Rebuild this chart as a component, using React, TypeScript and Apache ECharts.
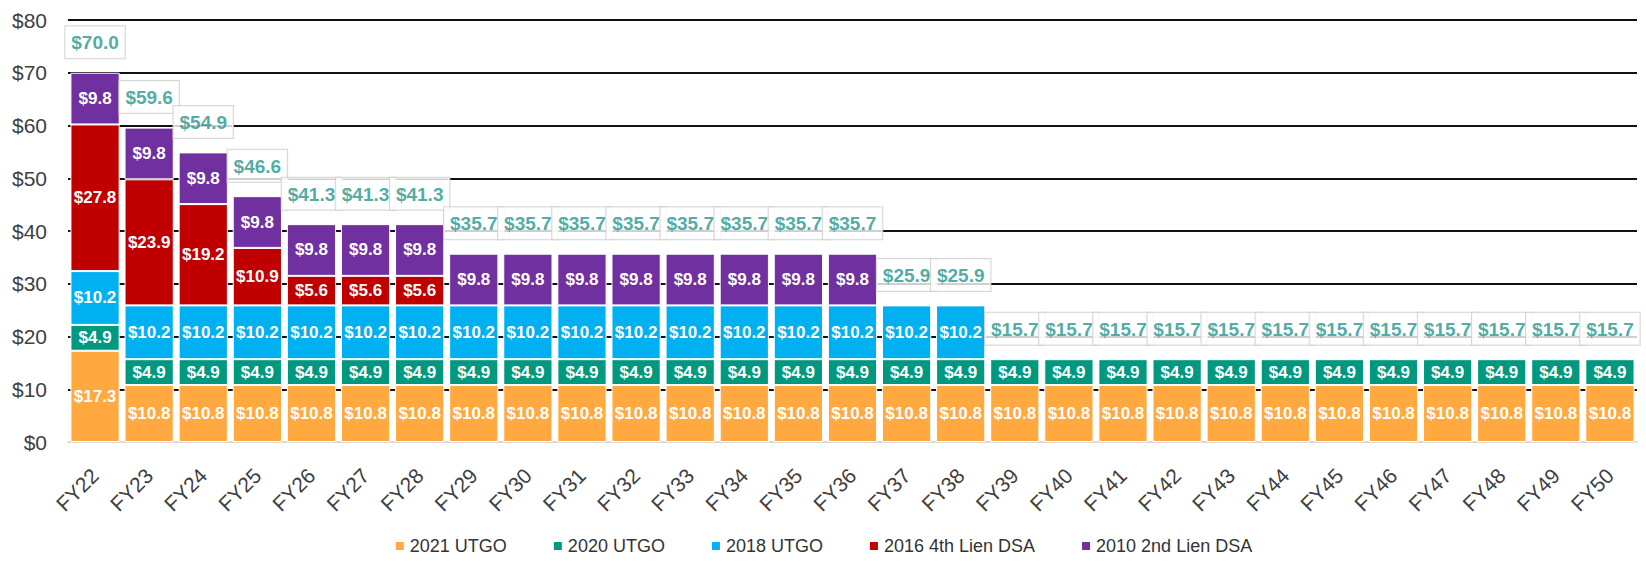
import React, { useEffect, useRef } from "react";
import * as echarts from "echarts";

const categories = ["FY22","FY23","FY24","FY25","FY26","FY27","FY28","FY29","FY30","FY31","FY32","FY33","FY34","FY35","FY36","FY37","FY38","FY39","FY40","FY41","FY42","FY43","FY44","FY45","FY46","FY47","FY48","FY49","FY50"];

const utgo2021 = [17.3,10.8,10.8,10.8,10.8,10.8,10.8,10.8,10.8,10.8,10.8,10.8,10.8,10.8,10.8,10.8,10.8,10.8,10.8,10.8,10.8,10.8,10.8,10.8,10.8,10.8,10.8,10.8,10.8];
const utgo2020 = [4.9,4.9,4.9,4.9,4.9,4.9,4.9,4.9,4.9,4.9,4.9,4.9,4.9,4.9,4.9,4.9,4.9,4.9,4.9,4.9,4.9,4.9,4.9,4.9,4.9,4.9,4.9,4.9,4.9];
const utgo2018 = [10.2,10.2,10.2,10.2,10.2,10.2,10.2,10.2,10.2,10.2,10.2,10.2,10.2,10.2,10.2,10.2,10.2,null,null,null,null,null,null,null,null,null,null,null,null];
const dsa2016 = [27.8,23.9,19.2,10.9,5.6,5.6,5.6,null,null,null,null,null,null,null,null,null,null,null,null,null,null,null,null,null,null,null,null,null,null];
const dsa2010 = [9.8,9.8,9.8,9.8,9.8,9.8,9.8,9.8,9.8,9.8,9.8,9.8,9.8,9.8,9.8,null,null,null,null,null,null,null,null,null,null,null,null,null,null];
const totals = [70.0,59.6,54.9,46.6,41.3,41.3,41.3,35.7,35.7,35.7,35.7,35.7,35.7,35.7,35.7,25.9,25.9,15.7,15.7,15.7,15.7,15.7,15.7,15.7,15.7,15.7,15.7,15.7,15.7];

const seriesNames = ["2021 UTGO", "2020 UTGO", "2018 UTGO", "2016 4th Lien DSA", "2010 2nd Lien DSA"];
const seriesColors = ["#FFA940", "#00997F", "#00B0F0", "#C00000", "#7030A0"];
const seriesData = [utgo2021, utgo2020, utgo2018, dsa2016, dsa2010];
const yTicks = { min: 0, max: 80, interval: 10 };

export default function App() {
  const ref = useRef<HTMLDivElement>(null);
  useEffect(() => {
    if (!ref.current) return;
    const chart = echarts.init(ref.current, null, { renderer: "svg" });
    const font = "'Liberation Sans', Arial, sans-serif";
    const bars = seriesNames.map((name, i) => ({
      name,
      type: "bar",
      stack: "total",
      barCategoryGap: "9%",
      data: seriesData[i],
      itemStyle: { color: seriesColors[i], borderColor: "#ffffff", borderWidth: 1 },
      label: {
        show: true,
        position: "inside",
        color: "#ffffff",
        fontFamily: font,
        fontWeight: "bold",
        fontSize: 17,
        formatter: (p: any) => (p.value == null ? "" : "$" + Number(p.value).toFixed(1)),
      },
    }));
    chart.setOption({
      animation: false,
      backgroundColor: "#ffffff",
      grid: { left: 68, right: 9, top: 20, bottom: 119, containLabel: false },
      legend: {
        data: seriesNames,
        bottom: 1,
        left: "center",
        itemWidth: 10,
        itemHeight: 10,
        itemGap: 45,
        icon: "rect",
        textStyle: { fontFamily: font, fontSize: 18, color: "#333333" },
      },
      xAxis: {
        type: "category",
        data: categories,
        axisTick: { show: false },
        axisLine: { show: true, lineStyle: { color: "#d9d9d9", width: 1.5 } },
        axisLabel: {
          rotate: 45,
          interval: 0,
          margin: 30,
          fontFamily: font,
          fontSize: 21,
          color: "#404040",
        },
      },
      yAxis: {
        type: "value",
        min: yTicks.min,
        max: yTicks.max,
        interval: yTicks.interval,
        axisLine: { show: false },
        axisTick: { show: false },
        axisLabel: {
          margin: 21,
          fontFamily: font,
          fontSize: 21,
          color: "#404040",
          formatter: (v: number) => "$" + v,
        },
        splitLine: {
          show: true,
          lineStyle: {
            color: ["#d9d9d9", "#111111", "#111111", "#111111", "#111111", "#111111", "#111111", "#111111", "#111111"],
            width: 2,
          },
        },
      },
      series: [
        ...bars,
        {
          name: "Total",
          type: "scatter",
          data: totals,
          symbolSize: 1,
          itemStyle: { color: "rgba(0,0,0,0)" },
          z: 10,
          label: {
            show: true,
            position: "top",
            distance: 14,
            fontFamily: font,
            fontWeight: "bold",
            fontSize: 19,
            color: "#23968C",
            backgroundColor: "#ffffff",
            borderColor: "#cccccc",
            borderWidth: 1,
            padding: [7, 6, 6, 6],
            formatter: (p: any) => "$" + Number(p.value).toFixed(1),
          },
        },
      ],
    });
    return () => chart.dispose();
  }, []);
  return (
    <div
      ref={ref}
      style={{ position: "fixed", left: 0, top: 0, width: 1646, height: 561 }}
    />
  );
}
